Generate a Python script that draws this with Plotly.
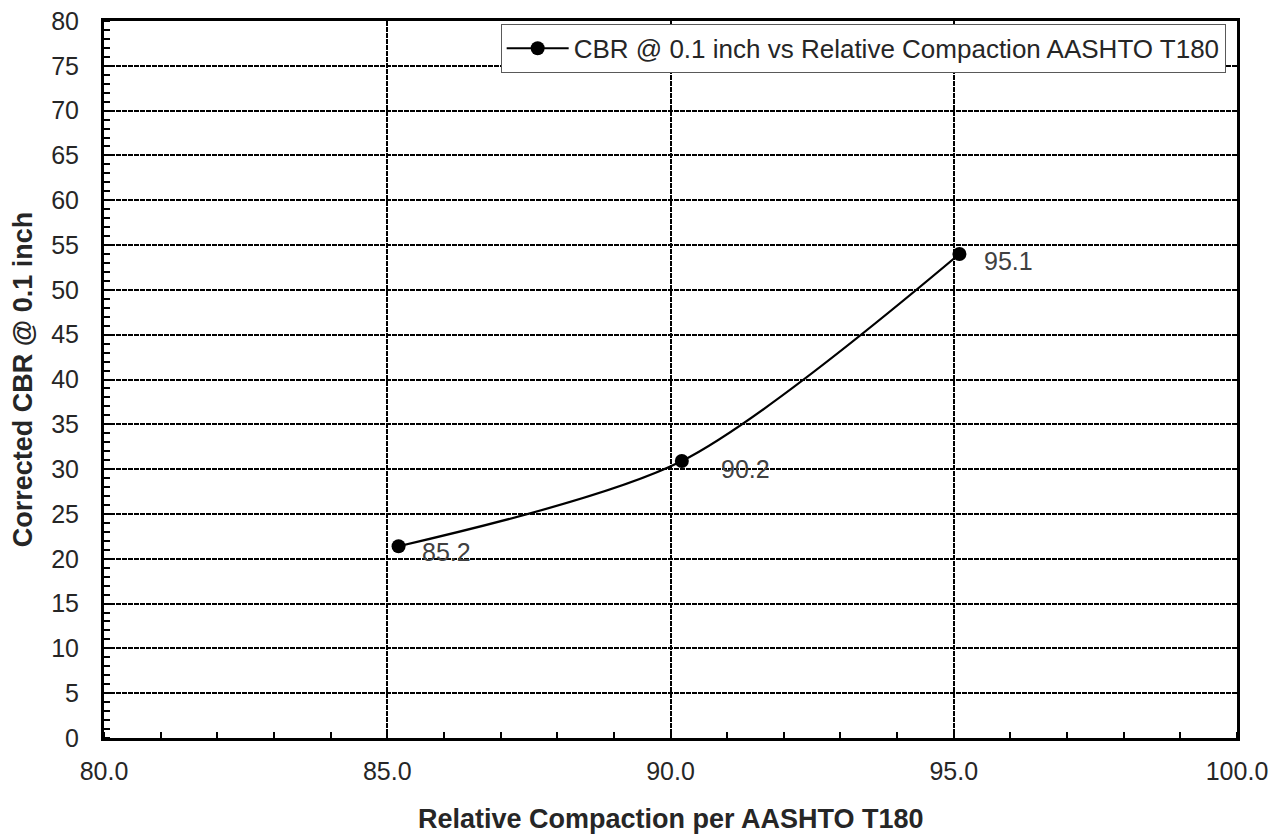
import plotly.graph_objects as go

compaction = [85.2, 90.2, 95.1]
cbr = [21.4, 30.9, 54.0]
label_text = ["85.2", "90.2", "95.1"]
label_dx = [21, 37, 23]
label_dy = [-6, -8, -7]

x_tickvals = [80, 85, 90, 95, 100]
y_tickvals = list(range(0, 81, 5))
x_title = "Relative Compaction per AASHTO T180"
y_title = "Corrected CBR @ 0.1 inch"

fig = go.Figure()
fig.add_trace(go.Scatter(
    x=compaction, y=cbr, mode="lines+markers",
    line=dict(color="black", width=2.2, shape="spline", smoothing=0.8),
    marker=dict(color="black", size=14),
    name="CBR @ 0.1 inch vs Relative Compaction AASHTO T180",
))

for x, y, t, dx, dy in zip(compaction, cbr, label_text, label_dx, label_dy):
    fig.add_annotation(x=x, y=y, text=t, showarrow=False, xanchor="left", yanchor="middle",
                       xshift=dx, yshift=dy, font=dict(size=25, color="#404040"))

fig.add_annotation(x=0.5, y=0, xref="paper", yref="paper", text="<b>" + x_title + "</b>",
                   showarrow=False, xanchor="center", yanchor="middle", yshift=-81,
                   font=dict(size=27, color="#262626"))

font_family = "Liberation Sans, Arial, sans-serif"
fig.update_layout(
    width=1265, height=828,
    margin=dict(l=96, r=36, t=13, b=98),
    paper_bgcolor="white", plot_bgcolor="white",
    font=dict(family=font_family, size=25, color="#262626"),
    showlegend=True,
    legend=dict(x=0.99, y=0.996, xanchor="right", yanchor="top",
                bgcolor="white", bordercolor="#595959", borderwidth=1,
                itemwidth=62,
                font=dict(size=26, color="#262626")),
)
fig.update_xaxes(
    range=[80, 100], tickvals=x_tickvals, tickformat=".1f", automargin=False,
    showline=True, linecolor="black", linewidth=3, mirror=True,
    showgrid=True, gridcolor="black", gridwidth=1.5, griddash="5px,1px",
    ticks="", ticklabelstandoff=9, zeroline=False, ticklabeloverflow="allow",
    minor=dict(ticks="inside", dtick=1, ticklen=6, tickwidth=2, tickcolor="black", showgrid=False),
    tickfont=dict(size=25, color="#262626"),
)
fig.update_yaxes(
    range=[0, 80], tickvals=y_tickvals, automargin=False,
    showline=True, linecolor="black", linewidth=3, mirror=True,
    showgrid=True, gridcolor="black", gridwidth=1.5, griddash="5px,1px",
    ticks="", ticklabelstandoff=17, zeroline=False, ticklabeloverflow="allow",
    minor=dict(ticks="inside", dtick=1, ticklen=6, tickwidth=2, tickcolor="black", showgrid=False),
    title=dict(text="<b>" + y_title + "</b>", font=dict(size=27, color="#262626"), standoff=14),
    tickfont=dict(size=25, color="#262626"),
)
fig.write_html("out.html")
